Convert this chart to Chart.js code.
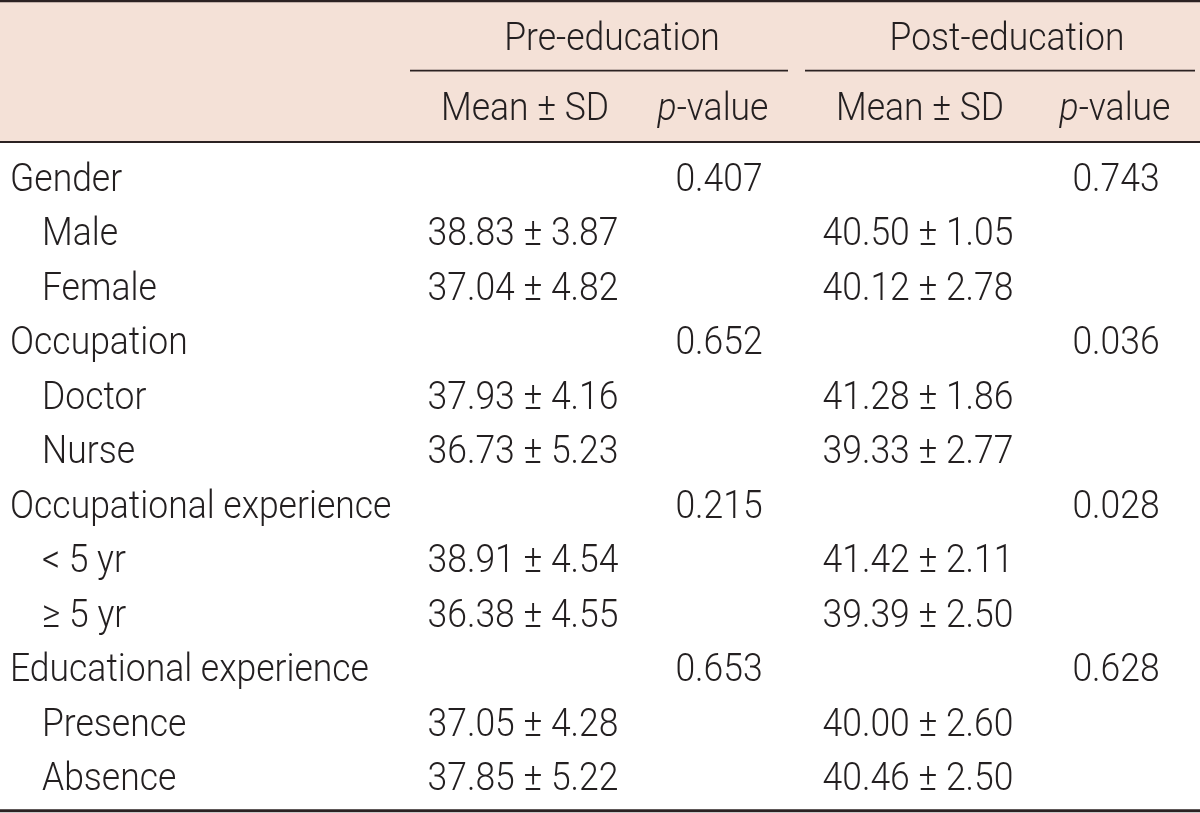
<!DOCTYPE html>
<html>
<head>
<meta charset="utf-8">
<script src="https://cdn.jsdelivr.net/npm/chart.js@4/dist/chart.umd.min.js"></script>
<style>
  html, body { margin: 0; padding: 0; background: #ffffff; }
  #wrap { width: 1200px; height: 813px; }
</style>
</head>
<body>
<div id="wrap"><canvas id="tabla" width="1200" height="813"></canvas></div>
<script>
// datos de la tabla
var groupHeaders = ["Pre-education", "Post-education"];
var columnHeaders = ["Mean \u00b1 SD", "p-value", "Mean \u00b1 SD", "p-value"];
var rowLabels = ["Gender", "Male", "Female", "Occupation", "Doctor", "Nurse",
  "Occupational experience", "< 5 yr", "\u2265 5 yr", "Educational experience", "Presence", "Absence"];
var rowLevel = [0, 1, 1, 0, 1, 1, 0, 1, 1, 0, 1, 1];
var preMean = [null, 38.83, 37.04, null, 37.93, 36.73, null, 38.91, 36.38, null, 37.05, 37.85];
var preSD = [null, 3.87, 4.82, null, 4.16, 5.23, null, 4.54, 4.55, null, 4.28, 5.22];
var prePValue = [0.407, null, null, 0.652, null, null, 0.215, null, null, 0.653, null, null];
var postMean = [null, 40.50, 40.12, null, 41.28, 39.33, null, 41.42, 39.39, null, 40.00, 40.46];
var postSD = [null, 1.05, 2.78, null, 1.86, 2.77, null, 2.11, 2.50, null, 2.60, 2.50];
var postPValue = [0.743, null, null, 0.036, null, null, 0.028, null, null, 0.628, null, null];

// posiciones y estilos (unidades de las escalas)
var layout = {
  labelX: [10, 42],
  meanX: [523, 918],
  pX: [719, 1116],
  headMeanX: [525, 920],
  headPX: [713, 1115],
  groupX: [612, 1007],
  groupLine: [[410, 788], [805, 1195]],
  groupY: -2.59,
  groupLineY: -2.21,
  headY: -1.30,
  topLineY: -3.49,
  headLineY: -0.90,
  bottomLineY: 11.38
};
var fuente = "Roboto, 'Liberation Sans', Arial, sans-serif";
var pesoFuente = "300";
var tamFuente = 39;
var escalaX = 0.91;
var colorTexto = "#231f20";
var colorLinea = "#2b2222";
var colorCabecera = "#f4e1d7";

function fmt(v) { return v.toFixed(2); }

function celdas(xs, fn) {
  var out = [];
  for (var i = 0; i < rowLabels.length; i++) {
    var t = fn(i);
    if (t !== null) out.push({ x: typeof xs === "function" ? xs(i) : xs, y: i, texto: t });
  }
  return out;
}

var datasets = [
  { label: "rows", align: "left", data: celdas(function (i) { return layout.labelX[rowLevel[i]]; }, function (i) { return rowLabels[i]; }) },
  { label: "preMean", align: "center", data: celdas(layout.meanX[0], function (i) { return preMean[i] === null ? null : fmt(preMean[i]) + " \u00b1 " + fmt(preSD[i]); }) },
  { label: "preP", align: "center", data: celdas(layout.pX[0], function (i) { return prePValue[i] === null ? null : prePValue[i].toFixed(3); }) },
  { label: "postMean", align: "center", data: celdas(layout.meanX[1], function (i) { return postMean[i] === null ? null : fmt(postMean[i]) + " \u00b1 " + fmt(postSD[i]); }) },
  { label: "postP", align: "center", data: celdas(layout.pX[1], function (i) { return postPValue[i] === null ? null : postPValue[i].toFixed(3); }) }
];
datasets.forEach(function (d) { d.pointRadius = 0; d.pointHoverRadius = 0; });

function dibujarTexto(ctx, texto, x, y, align) {
  ctx.save();
  ctx.fillStyle = colorTexto;
  ctx.textBaseline = "alphabetic";
  ctx.translate(x, y);
  ctx.scale(escalaX, 1);
  var normal = pesoFuente + " " + tamFuente + "px " + fuente;
  var italica = "italic " + pesoFuente + " " + tamFuente + "px " + fuente;
  if (texto.indexOf("p-") === 0) {
    ctx.font = italica;
    var w1 = ctx.measureText("p").width;
    ctx.font = normal;
    var w2 = ctx.measureText(texto.substring(1)).width;
    var x0 = align === "center" ? -(w1 + w2) / 2 : 0;
    ctx.textAlign = "left";
    ctx.font = italica;
    ctx.fillText("p", x0, 0);
    ctx.font = normal;
    ctx.fillText(texto.substring(1), x0 + w1, 0);
  } else {
    ctx.font = normal;
    ctx.textAlign = align;
    ctx.fillText(texto, 0, 0);
  }
  ctx.restore();
}

var pluginTabla = {
  id: "pluginTabla",
  beforeDatasetsDraw: function (chart) {
    var ctx = chart.ctx;
    var sx = chart.scales.x, sy = chart.scales.y;
    var top = sy.getPixelForValue(layout.topLineY);
    var hl = sy.getPixelForValue(layout.headLineY);
    ctx.save();
    ctx.fillStyle = colorCabecera;
    ctx.fillRect(sx.left, top, sx.right - sx.left, hl - top);
    ctx.strokeStyle = colorLinea;
    ctx.lineWidth = 2.6;
    ctx.beginPath();
    ctx.moveTo(sx.left, top); ctx.lineTo(sx.right, top);
    ctx.stroke();
    ctx.lineWidth = 1.8;
    ctx.beginPath();
    ctx.moveTo(sx.left, hl); ctx.lineTo(sx.right, hl);
    ctx.stroke();
    ctx.lineWidth = 3;
    var bl = sy.getPixelForValue(layout.bottomLineY);
    ctx.beginPath();
    ctx.moveTo(sx.left, bl); ctx.lineTo(sx.right, bl);
    ctx.stroke();
    ctx.lineWidth = 1.8;
    var gy = sy.getPixelForValue(layout.groupLineY);
    for (var g = 0; g < layout.groupLine.length; g++) {
      ctx.beginPath();
      ctx.moveTo(sx.getPixelForValue(layout.groupLine[g][0]), gy);
      ctx.lineTo(sx.getPixelForValue(layout.groupLine[g][1]), gy);
      ctx.stroke();
    }
    ctx.restore();
    // cabeceras
    for (var k = 0; k < groupHeaders.length; k++) {
      dibujarTexto(ctx, groupHeaders[k], sx.getPixelForValue(layout.groupX[k]), sy.getPixelForValue(layout.groupY), "center");
    }
    var hx = [layout.headMeanX[0], layout.headPX[0], layout.headMeanX[1], layout.headPX[1]];
    for (var c = 0; c < columnHeaders.length; c++) {
      dibujarTexto(ctx, columnHeaders[c], sx.getPixelForValue(hx[c]), sy.getPixelForValue(layout.headY), "center");
    }
  },
  afterDatasetsDraw: function (chart) {
    var ctx = chart.ctx;
    chart.data.datasets.forEach(function (ds, i) {
      var meta = chart.getDatasetMeta(i);
      meta.data.forEach(function (el, j) {
        dibujarTexto(ctx, ds.data[j].texto, el.x, el.y, ds.align);
      });
    });
  }
};

var ctx = document.getElementById("tabla").getContext("2d");
var myChart = new Chart(ctx, {
  type: "scatter",
  data: { datasets: datasets },
  options: {
    responsive: false,
    animation: false,
    layout: { padding: 0 },
    plugins: { legend: { display: false }, tooltip: { enabled: false } },
    scales: {
      x: { type: "linear", display: false, min: 0, max: 1200 },
      y: { type: "linear", display: false, reverse: true, min: -3.508, max: 11.423 }
    }
  },
  plugins: [pluginTabla]
});
</script>
</body>
</html>
